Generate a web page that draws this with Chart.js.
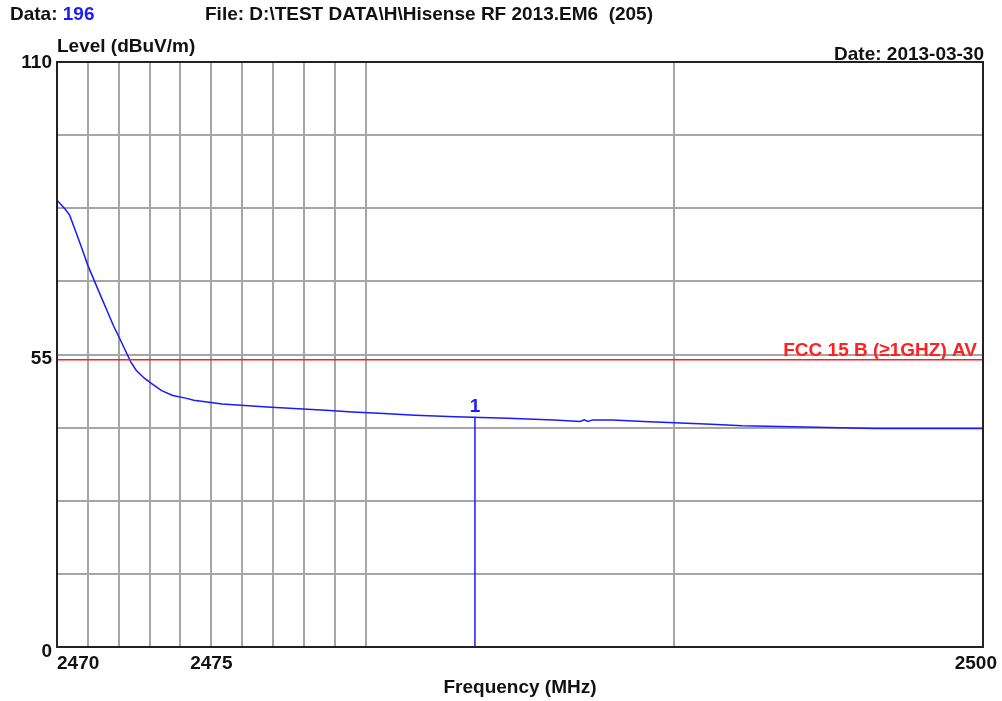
<!DOCTYPE html>
<html>
<head>
<meta charset="utf-8">
<script src="https://cdn.jsdelivr.net/npm/chart.js@4.4.1/dist/chart.umd.min.js"></script>
<style>
html,body{margin:0;padding:0;background:#fff;}
canvas{display:block;}
</style>
</head>
<body>
<canvas id="c" width="1002" height="701"></canvas>
<script>
// ---- data ----
const freqs = [2470.00,2470.24,2470.41,2470.57,2470.79,2470.99,2471.22,2471.44,2471.64,2471.83,
  2472.03,2472.22,2472.38,2472.57,2472.84,2473.10,2473.39,2473.75,2474.17,2474.43,
  2474.80,2475.35,2476.08,2476.94,2477.83,2478.70,2479.58,2480.59,2481.60,2482.90,
  2484.60,2486.10,2486.95,2487.08,2487.20,2487.35,2488.00,2489.00,2490.20,2491.20,
  2492.20,2494.60,2496.50,2500.00];
const levels = [84.0,82.5,81.2,78.7,75.2,71.9,68.7,65.7,63.0,60.4,
  58.0,55.7,53.7,52.0,50.5,49.4,48.2,47.3,46.8,46.4,
  46.1,45.7,45.4,45.1,44.8,44.5,44.2,43.9,43.6,43.3,
  43.0,42.7,42.4,42.7,42.4,42.7,42.7,42.4,42.1,41.9,
  41.6,41.3,41.1,41.1];
const limitFreqs = [2470, 2500];
const limitLevels = [54, 54];
const markerFreq = 2483.54;
const markerLevel = 43.3;
const xGridValues = [2470,2471,2472,2473,2474,2475,2476,2477,2478,2479,2480,2490,2500];
const xTickLabels = [2470, 2475, 2500];
const yGridValues = [0,13.75,27.5,41.25,55,68.75,82.5,96.25,110];
const yTickLabels = [0, 55, 110];
const limitName = 'FCC 15 B (\u22651GHZ) AV';
const dataNo = '196';
const fileText = 'File: D:\\TEST DATA\\H\\Hisense RF 2013.EM6  (205)';
const dateText = 'Date: 2013-03-30';
const yTitle = 'Level (dBuV/m)';
const xTitle = 'Frequency (MHz)';

const FONT = 'bold 19px "Liberation Sans", Arial, sans-serif';
const TXT = '#111';
const BLUE = '#1a1aff';
const RED = '#ff2020';

const textPlugin = {
  id: 'texts',
  afterDraw(chart) {
    const {ctx, chartArea: a, scales: {x, y}} = chart;
    ctx.save();
    // frame
    ctx.strokeStyle = '#222';
    ctx.lineWidth = 2;
    ctx.strokeRect(a.left, a.top, a.right - a.left, a.bottom - a.top);
    ctx.font = FONT;
    ctx.textBaseline = 'alphabetic';
    // header
    ctx.fillStyle = TXT; ctx.textAlign = 'left';
    ctx.fillText('Data: ', 10, 19.5);
    const w = ctx.measureText('Data: ').width;
    ctx.fillStyle = BLUE;
    ctx.fillText(dataNo, 10 + w, 19.5);
    ctx.fillStyle = TXT;
    ctx.fillText(fileText, 205, 19.5);
    ctx.fillText(yTitle, a.left, 52);
    ctx.textAlign = 'right';
    ctx.fillText(dateText, 984, 59.5);
    // y labels
    const yOff = {110: 5.5, 55: 9.5, 0: 10};
    yTickLabels.forEach(v => {
      ctx.fillText(String(v), a.left - 5, y.getPixelForValue(v) + yOff[v]);
    });
    // x labels
    xTickLabels.forEach((v, i) => {
      const px = x.getPixelForValue(v);
      if (i === 0) { ctx.textAlign = 'left'; ctx.fillText(String(v), px, 669); }
      else if (i === xTickLabels.length - 1) { ctx.textAlign = 'right'; ctx.fillText(String(v), px + 14, 669); }
      else { ctx.textAlign = 'center'; ctx.fillText(String(v), px, 669); }
    });
    ctx.textAlign = 'center';
    ctx.fillText(xTitle, (a.left + a.right) / 2, 693);
    // limit label
    ctx.fillStyle = RED; ctx.textAlign = 'right';
    ctx.fillText(limitName, a.right - 6, y.getPixelForValue(limitLevels[0]) - 4);
    // marker label
    ctx.fillStyle = BLUE; ctx.textAlign = 'center';
    ctx.fillText('1', x.getPixelForValue(markerFreq), y.getPixelForValue(markerLevel) - 5);
    ctx.restore();
  }
};

new Chart(document.getElementById('c'), {
  type: 'line',
  data: {
    datasets: [
      { label: 'Limit', data: limitFreqs.map((f, i) => ({x: f, y: limitLevels[i]})),
        borderColor: RED, borderWidth: 1.5, pointRadius: 0 },
      { label: 'Trace', data: freqs.map((f, i) => ({x: f, y: levels[i]})),
        borderColor: BLUE, borderWidth: 1.5, pointRadius: 0, tension: 0 },
      { label: 'Marker', data: [{x: markerFreq, y: 0}, {x: markerFreq, y: markerLevel}],
        borderColor: BLUE, borderWidth: 1.5, pointRadius: 0 }
    ]
  },
  options: {
    responsive: false,
    animation: false,
    events: [],
    layout: { padding: { left: 57, top: 62, right: 19, bottom: 54 } },
    plugins: { legend: { display: false }, tooltip: { enabled: false }, title: { display: false } },
    scales: {
      x: {
        type: 'linear', min: 2470, max: 2500,
        afterBuildTicks: s => { s.ticks = xGridValues.map(v => ({value: v})); },
        ticks: { display: false },
        grid: { color: '#a6a6a6', lineWidth: 2, drawTicks: false },
        border: { display: false }
      },
      y: {
        type: 'linear', min: 0, max: 110,
        afterBuildTicks: s => { s.ticks = yGridValues.map(v => ({value: v})); },
        ticks: { display: false },
        grid: { color: '#a6a6a6', lineWidth: 2, drawTicks: false },
        border: { display: false }
      }
    }
  },
  plugins: [textPlugin]
});
</script>
</body>
</html>
